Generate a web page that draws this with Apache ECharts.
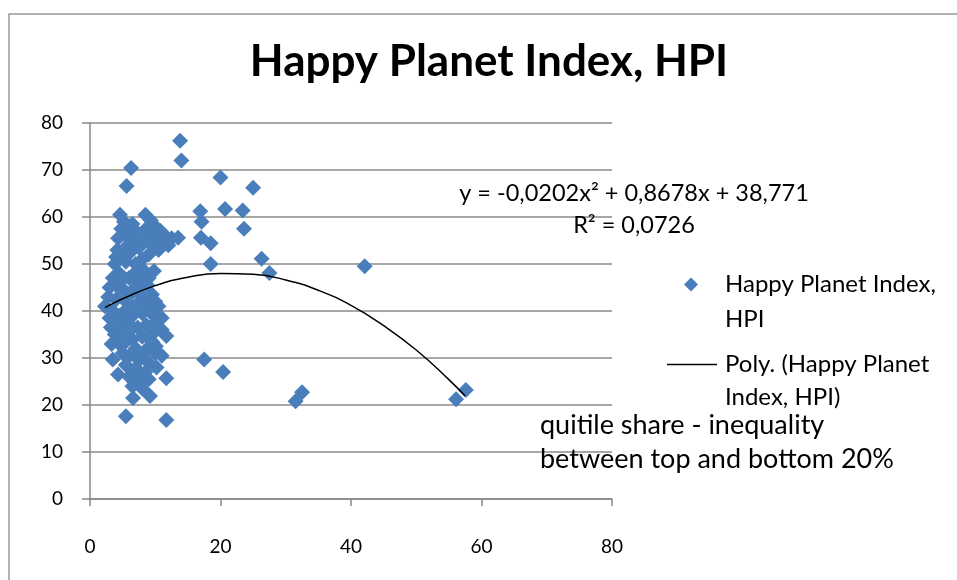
<!DOCTYPE html>
<html>
<head>
<meta charset="utf-8">
<title>Happy Planet Index, HPI</title>
<script src="https://cdn.jsdelivr.net/npm/echarts@6/dist/echarts.min.js"></script>
<style>
    html, body { margin: 0; padding: 0; background: #fff; }
    #main { width: 957px; height: 580px; }
</style>
</head>
<body>
<div id="main"></div>
<script>
// quintile share (x) vs Happy Planet Index (y)
var hpiPoints = [
    [13.8, 76.2], [14, 72], [6.3, 70.4], [20, 68.4], [5.6, 66.6], [25, 66.2],
    [16.9, 61.2], [20.7, 61.7], [23.4, 61.4], [17.1, 59], [23.6, 57.5], [17, 55.6],
    [18.5, 54.4], [18.5, 50], [26.3, 51.1], [27.5, 48.1], [42.1, 49.5], [13.5, 55.6],
    [17.5, 29.7], [20.4, 27], [31.5, 20.8], [32.5, 22.7], [56.1, 21.2], [57.6, 23.2],
    [4.6, 60.5], [5.2, 59], [4.8, 57.5], [5.5, 56], [4.3, 55.5], [6, 58], [6.5, 55],
    [7, 57], [7.5, 53.5], [8.5, 60.5], [9.3, 59.3], [10, 58], [10.8, 57], [11.5, 56],
    [12.5, 55.5], [11, 55], [9.5, 54], [8.2, 55.5], [9, 52], [10.5, 53], [12, 54],
    [6.2, 52.5], [5, 52], [4.2, 53], [3.8, 50], [5.5, 50.5], [7, 50], [8, 49],
    [9.8, 48.5], [4.5, 48], [6, 47], [3.5, 47], [3, 45], [4.8, 45], [7.5, 46],
    [8.8, 45.5], [9.5, 43.5], [6.5, 44], [2.8, 43], [4, 42.5], [5.5, 42], [7.2, 41.5],
    [8.5, 42], [10, 42], [10.5, 41], [2.3, 41], [3.5, 40], [5, 39.5], [6.5, 39],
    [8, 39.5], [9.2, 40], [3, 38.5], [4.2, 37], [5.8, 37.5], [7.3, 36.5], [8.6, 37],
    [10, 37.5], [11, 36], [3.8, 35], [5, 35.5], [6.5, 34], [8, 34.5], [9.5, 35],
    [11.7, 34.7], [10.1, 32.5], [4.5, 33], [7, 32], [8.8, 32], [10, 31], [11, 30.5],
    [6, 30.5], [7.5, 29.5], [9, 29], [3.5, 29.7], [4.3, 26.5], [5.5, 28.5], [6.8, 27.5],
    [8.5, 27], [10.2, 28], [6, 26], [7.5, 25], [9, 25.5], [11.7, 25.7], [6.5, 24],
    [8, 23.5], [6.6, 21.5], [9.2, 21.9], [5.5, 17.6], [11.7, 16.8],
    [4, 45.5], [5.2, 47], [6.8, 48], [8.5, 47.5], [3.2, 36.5], [4.5, 39], [6, 40.5],
    [7.8, 43.5], [9, 47], [5.5, 33.5], [7.8, 30.5], [9.5, 33.5], [6.2, 36], [4, 51.5],
    [5.8, 54], [7.2, 55], [8.6, 57.5], [9.5, 56], [10.5, 55], [7, 45], [5.3, 44],
    [8, 51], [6.5, 58.5], [3.3, 33], [9.8, 39], [11, 38.5], [7.6, 27], [8.2, 25.5], [5, 31]
];

// polynomial trendline, points
var trendPoints = [
    [2.3, 40.7], [5, 42.6], [10, 45.4], [15, 47.2], [20, 48.0], [25, 47.8], [30, 46.6],
    [35, 44.4], [40, 41.2], [45, 36.9], [50, 31.7], [55, 25.4], [57.5, 21.9]
];

var xTicks = [0, 20, 40, 60, 80];
var yTicks = [0, 10, 20, 30, 40, 50, 60, 70, 80];

var seriesName = 'Happy Planet Index, HPI';
var trendName = 'Poly. (Happy Planet Index, HPI)';
var equationText = 'y = -0,0202x² + 0,8678x + 38,771';
var rSquaredText = 'R² = 0,0726';
var axisTitle = 'quitile share - inequality\nbetween top and bottom 20%';

var font = 'Lato, "Open Sans", sans-serif';

var myChart = echarts.init(document.getElementById('main'));
var option = {
    backgroundColor: '#fff',
    animation: false,
    textStyle: { fontFamily: font },
    title: [
        {
            text: seriesName,
            left: 484,
            top: 35,
            textAlign: 'center',
            textStyle: { fontFamily: font, fontSize: 44, fontWeight: 'bold', color: '#000' }
        },
        {
            text: equationText,
            left: 629,
            top: 176,
            textAlign: 'center',
            textStyle: { fontFamily: font, fontSize: 23.5, fontWeight: 'normal', color: '#000' }
        },
        {
            text: rSquaredText,
            left: 629,
            top: 208,
            textAlign: 'center',
            textStyle: { fontFamily: font, fontSize: 23.5, fontWeight: 'normal', color: '#000' }
        },
        {
            text: axisTitle,
            left: 535,
            top: 403,
            textStyle: { fontFamily: font, fontSize: 27, fontWeight: 'normal', color: '#000', lineHeight: 34 }
        }
    ],
    legend: [
        {
            data: [{ name: seriesName, icon: 'diamond' }],
            left: 684,
            top: 232,
            padding: 0,
            itemWidth: 14,
            itemHeight: 14,
            formatter: function () { return '\nHappy Planet Index,\nHPI'; },
            textStyle: { fontFamily: font, fontSize: 24, color: '#000', lineHeight: 35, padding: [0, 0, 0, 22] }
        },
        {
            data: [{ name: trendName, icon: 'rect' }],
            left: 667,
            top: 315,
            padding: 0,
            itemWidth: 50,
            itemHeight: 1.5,
            formatter: function () { return '\nPoly. (Happy Planet\nIndex, HPI)'; },
            textStyle: { fontFamily: font, fontSize: 24, color: '#000', lineHeight: 33, padding: [0, 0, 0, 3] }
        }
    ],
    graphic: [
        {
            type: 'rect',
            shape: { x: 9, y: 14, width: 1000, height: 700 },
            style: { fill: 'none', stroke: '#999', lineWidth: 1.5 },
            silent: true
        }
    ],
    grid: { left: 90, right: 345, top: 123, bottom: 81, containLabel: false },
    xAxis: {
        type: 'value',
        min: xTicks[0],
        max: xTicks[xTicks.length - 1],
        interval: 20,
        axisLine: { show: true, onZero: false, lineStyle: { color: '#888', width: 1.5 } },
        axisTick: { show: true, length: 7, lineStyle: { color: '#888', width: 1.5 } },
        axisLabel: { margin: 38, fontFamily: font, fontSize: 19, color: '#000' },
        splitLine: { show: false }
    },
    yAxis: {
        type: 'value',
        min: yTicks[0],
        max: yTicks[yTicks.length - 1],
        interval: 10,
        axisLine: { show: true, onZero: false, lineStyle: { color: '#888', width: 1.5 } },
        axisTick: { show: true, length: 8, lineStyle: { color: '#888', width: 1.5 } },
        axisLabel: { margin: 27, fontFamily: font, fontSize: 19, color: '#000' },
        splitLine: { show: true, lineStyle: { color: '#8a8a8a', width: 1.5 } }
    },
    series: [
        {
            name: seriesName,
            type: 'scatter',
            symbol: 'diamond',
            symbolSize: 16,
            itemStyle: { color: '#4a7ebb', opacity: 1 },
            data: hpiPoints
        },
        {
            name: trendName,
            type: 'line',
            smooth: true,
            symbol: 'none',
            color: '#000',
            lineStyle: { color: '#000', width: 1.5 },
            data: trendPoints,
            z: 3
        }
    ]
};
myChart.setOption(option);
</script>
</body>
</html>
